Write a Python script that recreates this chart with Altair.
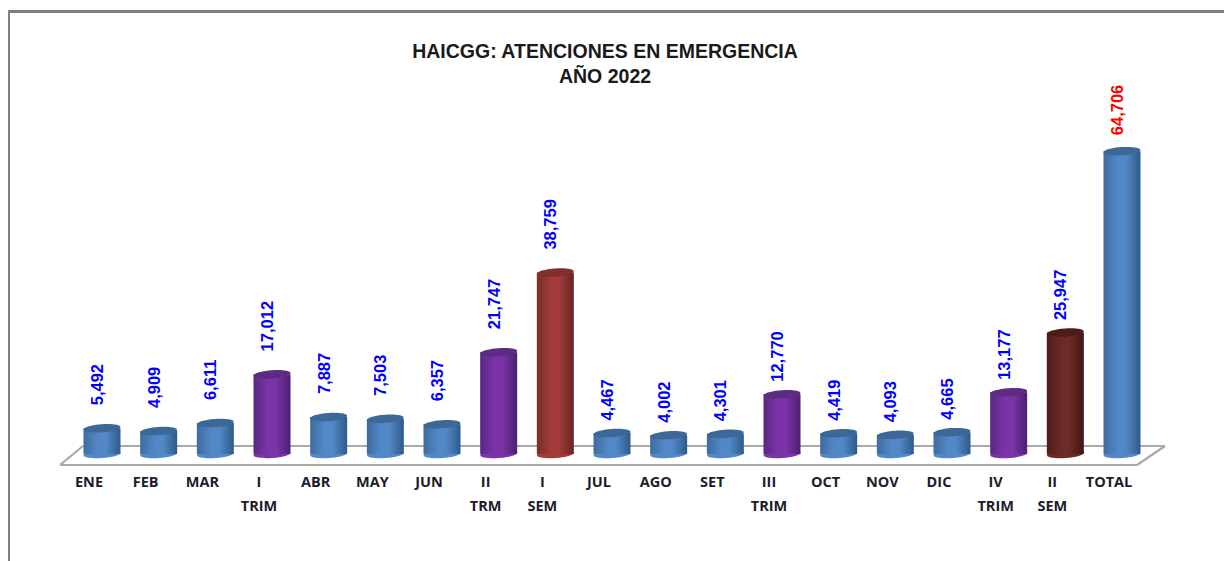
import altair as alt
import pandas as pd

categories = ["ENE", "FEB", "MAR", "I TRIM", "ABR", "MAY", "JUN", "II TRM", "I SEM", "JUL",
              "AGO", "SET", "III TRIM", "OCT", "NOV", "DIC", "IV TRIM", "II SEM", "TOTAL"]
values = [5492, 4909, 6611, 17012, 7887, 7503, 6357, 21747, 38759, 4467,
          4002, 4301, 12770, 4419, 4093, 4665, 13177, 25947, 64706]
groups = ["mes", "mes", "mes", "trim", "mes", "mes", "mes", "trim", "sem1", "mes",
          "mes", "mes", "trim", "mes", "mes", "mes", "trim", "sem2", "total"]
halves = ["h1", "h1", "h1", "h1", "h1", "h1", "h1", "h1", "h1", "h2",
          "h2", "h2", "h2", "h2", "h2", "h2", "h2", "h2", "all"]
title_lines = ["HAICGG: ATENCIONES EN EMERGENCIA", "AÑO 2022"]

df = pd.DataFrame({"cat": categories, "val": values, "grp": groups, "half": halves})

W, H = 1216, 553
x_scale = alt.Scale(type="band", domain=categories, range=[65.67, 1142.33],
                    paddingInner=0, paddingOuter=0)
y_scale = alt.Scale(domain=[0, 70000], range=[446, 118.4])

x_axis = alt.Axis(title=None, orient="bottom", domain=False, ticks=False, grid=False,
                  labelAngle=0, labelFont="Open Sans", labelFontWeight="bold", labelFontSize=14.5,
                  labelColor="#1c1c2c", labelExpr="split(datum.label, ' ')", labelBaseline="top",
                  labelLineHeight=24, labelOffset=-13, labelPadding=0, offset=-86, labelOverlap=False,
                  labelBound=False, labelFlush=False)
X = alt.X("cat:N", scale=x_scale, axis=x_axis)
Y = alt.Y("val:Q", scale=y_scale, axis=None, stack=None)
Y0 = alt.Y("base:Q", scale=y_scale, axis=None, stack=None)

ELLIPSE = "M-1,0A1,0.22,0,1,1,1,0A1,0.22,0,1,1,-1,0Z"
BAR_W = 37


def edge(x, y, x2, y2, color="#a9a9a9", sw=2.2):
    return alt.Chart(df.head(1)).mark_rule(color=color, strokeWidth=sw, clip=False).encode(
        x=alt.value(x), y=alt.value(y), x2=alt.value(x2), y2=alt.value(y2))


layers = [
    edge(52, 457, 1129, 457), edge(75, 438, 1157, 438),
    edge(52, 457, 75, 438), edge(1129, 457, 1157, 438),
    edge(0, 3.5, W, 3.5, "#808080", 3), edge(0.5, 3.5, 0.5, H, "#808080", 3),
]

palette = {
    ("mes", "total"): ("#3f6c9e", "#5388c8", "#2f5a88", "#3c6897"),
    ("trim",): ("#5a2784", "#7a34a8", "#4c2070", "#5d2a84"),
    ("sem1",): ("#7a2e2b", "#a23c39", "#672522", "#7f302d"),
    ("sem2",): ("#4d1c1a", "#6e2a27", "#3f1614", "#4e1c1a"),
}

for grp, (dark, light, dark2, top) in palette.items():
    flt = alt.FieldOneOfPredicate(field="grp", oneOf=list(grp))
    base = alt.Chart(df).transform_filter(flt).transform_calculate(base="0")
    grad = alt.Gradient(gradient="linear", x1=0, x2=1, y1=0, y2=0,
                        stops=[alt.GradientStop(color=dark, offset=0),
                               alt.GradientStop(color=light, offset=0.4),
                               alt.GradientStop(color=light, offset=0.6),
                               alt.GradientStop(color=dark2, offset=1)])
    layers.append(base.mark_point(filled=True, shape=ELLIPSE, size=BAR_W ** 2, angle=356, opacity=1,
                                  color=light).encode(x=X, y=Y0))
    layers.append(base.mark_bar(size=BAR_W, fill=grad).encode(x=X, y=Y, y2=alt.Y2("base:Q")))
    layers.append(base.mark_point(filled=True, shape=ELLIPSE, size=BAR_W ** 2, angle=356, opacity=1,
                                  color=top).encode(x=X, y=Y))

label_kw = dict(angle=270, align="left", baseline="middle", dy=-4,
                font="Liberation Sans", fontWeight="bold", fontSize=16.5)
for half, gap, color in [("h1", 23, "#0000ff"), ("h2", 12.5, "#0000ff"), ("all", 16, "#ff0000")]:
    layers.append(alt.Chart(df).transform_filter(alt.FieldEqualPredicate(field="half", equal=half))
                  .mark_text(color=color, dx=gap, **label_kw)
                  .encode(x=X, y=Y, text=alt.Text("val:Q", format=",")))

chart = alt.layer(*layers).properties(
    width=W, height=H, padding=0, background="white",
    autosize=alt.AutoSizeParams(type="none"),
    title=alt.Title(text=title_lines, anchor="middle", dx=-11, dy=83, font="Liberation Sans",
                    fontWeight="bold", fontSize=19.5, lineHeight=25, color="#1a1a1a", baseline="top"),
).configure_view(stroke=None)

chart.save("out.html", embed_options={"renderer": "svg", "actions": False})
